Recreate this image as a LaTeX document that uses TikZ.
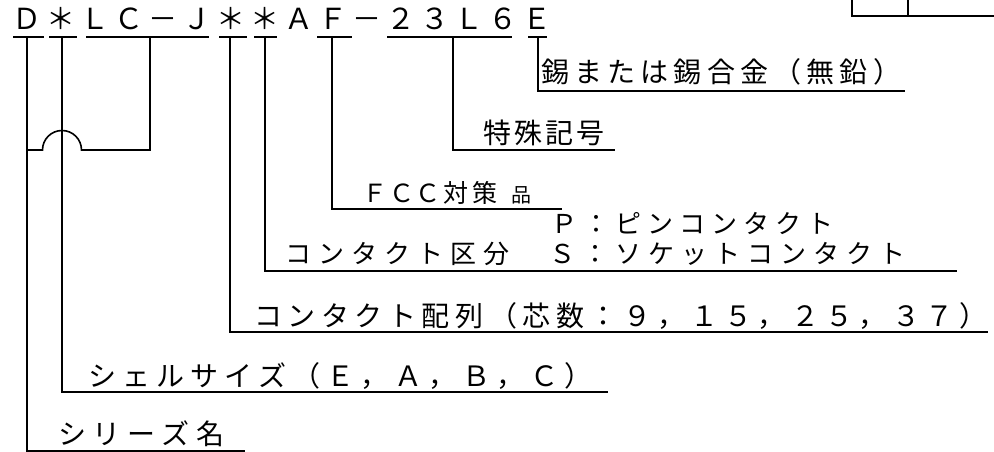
\documentclass[tikz,border=0pt]{standalone}
\usepackage{fontspec}
\newfontfamily\jp{Noto Sans CJK JP}
\makeatletter
\def\cell@end{\cell@end}
\newcommand\celltext[2]{\def\cell@w{#1}\cell@loop#2\cell@end}
\def\cell@loop#1{\ifx#1\cell@end\else\makebox[\cell@w][c]{#1}\expandafter\cell@loop\fi}
\makeatother
\newcommand\jpsize[1]{\jp\fontsize{#1}{#1}\selectfont}
\tikzset{
  lbl/.style={anchor=base west, inner sep=0pt, text=black},
  lead/.style={draw=black, line width=1.6pt, line join=miter},
}
\begin{document}
\begin{tikzpicture}[x=1pt,y=-1pt]
\useasboundingbox (0,0) rectangle (994,452);
% header code
\node[lbl] (hdr) at (10,30) {\jpsize{29}\celltext{34pt}{Ｄ＊ＬＣ－Ｊ＊＊ＡＦ－２３Ｌ６Ｅ}};
% header underlines
\foreach \a/\b [count=\i] in {13/44,49/77,86/209,219/247,254/277,317/352,387/512,528/547}
  \draw[lead] (\a,37) coordinate (u\i a) -- (\b,37) coordinate (u\i b);
% labels
\node[lbl] (lE) at (538.4,82) {\jpsize{28}\celltext{33.2pt}{錫または錫合金（無鉛）}};
\node[lbl] (lSp) at (481.5,143) {\jpsize{28}\celltext{31pt}{特殊記号}};
\node[lbl] (lF) at (362,202) {\jpsize{25}\celltext{26.5pt}{ＦＣＣ}\celltext{29pt}{対策}\makebox[44pt][c]{\jpsize{20}品}};
\node[lbl] (lP) at (548,233) {\jpsize{26}\celltext{32pt}{Ｐ：ピンコンタクト}};
\node[lbl] (lS) at (281.5,263) {\jpsize{26}\celltext{33pt}{コンタクト区分　Ｓ：ソケットコンタクト}};
\node[lbl] (lC) at (251,326) {\jpsize{28}\celltext{33.6pt}{コンタクト配列（芯数：９，１５，２５，３７）}};
\node[lbl] (lSh) at (85,386) {\jpsize{28}\celltext{34pt}{シェルサイズ（Ｅ，Ａ，Ｂ，Ｃ）}};
\node[lbl] (lSe) at (54.75,444) {\jpsize{28}\celltext{34.5pt}{シリーズ名}};
% leader corner points
\coordinate (dT) at (27,37);   \coordinate (dC) at (27,451);  \coordinate (dE) at (245,451);
\coordinate (sT) at (62,37);   \coordinate (sC) at (62,392);  \coordinate (sE) at (608,392);
\coordinate (lcT) at (150,37); \coordinate (lcC) at (150,150); \coordinate (lcA) at (81.5,150); \coordinate (lcE) at (27,150);
\coordinate (cT) at (230,37);  \coordinate (cC) at (230,332); \coordinate (cE) at (988,332);
\coordinate (kT) at (265,37);  \coordinate (kC) at (265,271); \coordinate (kE) at (957,271);
\coordinate (fT) at (332,37);  \coordinate (fC) at (332,209); \coordinate (fE) at (562,209);
\coordinate (nT) at (453,37);  \coordinate (nC) at (453,150); \coordinate (nE) at (615,150);
\coordinate (eT) at (538,37);  \coordinate (eC) at (538,91);  \coordinate (eE) at (905,91);
% leaders
\draw[lead] (dT) -- (dC) -- (dE);
\draw[lead] (sT) -- (sC) -- (sE);
\draw[lead] (lcT) -- (lcC) -- (lcA) arc[start angle=0, end angle=-180, radius=19.5] -- (lcE);
\draw[lead] (cT) -- (cC) -- (cE);
\draw[lead] (kT) -- (kC) -- (kE);
\draw[lead] (fT) -- (fC) -- (fE);
\draw[lead] (nT) -- (nC) -- (nE);
\draw[lead] (eT) -- (eC) -- (eE);
% fragment of table at top right
\coordinate (bx1) at (852,0); \coordinate (bx2) at (852,16); \coordinate (bx3) at (994,16);
\coordinate (bx4) at (908,0); \coordinate (bx5) at (908,16);
\draw[lead] (bx1) -- (bx2) -- (bx3);
\draw[lead] (bx4) -- (bx5);
\end{tikzpicture}
\end{document}
